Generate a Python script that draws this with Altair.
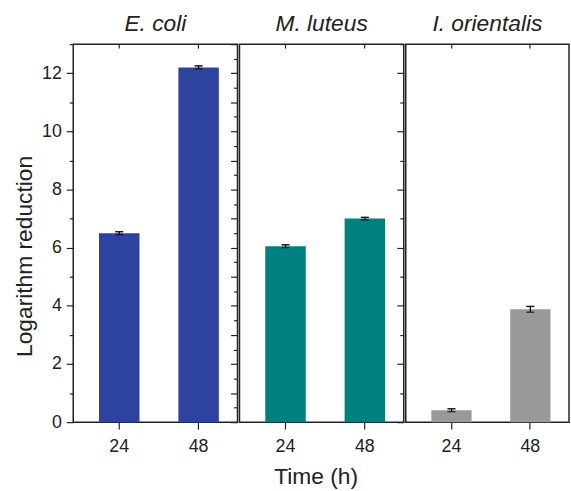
import altair as alt
import pandas as pd

organisms = ["E. coli", "M. luteus", "I. orientalis"]
times = ["24", "48"]
ecoli_vals = [6.5, 12.2]
mluteus_vals = [6.05, 7.0]
iori_vals = [0.41, 3.88]
ecoli_err = [0.05, 0.05]
mluteus_err = [0.05, 0.04]
iori_err = [0.05, 0.1]
colors = ["#2E43A0", "#00807F", "#999999"]
y_even = [0, 2, 4, 6, 8, 10, 12]
y_odd = [1, 3, 5, 7, 9, 11, 13]
y_int = [0, 1, 2, 3, 4, 5, 6, 7, 8, 9, 10, 11, 12, 13]
y_half = [0.5, 1.5, 2.5, 3.5, 4.5, 5.5, 6.5, 7.5, 8.5, 9.5, 10.5, 11.5, 12.5]

FONT = "Liberation Sans"
INK = "#222222"
PANEL_H = 382
PANEL_W = [166, 166, 165]
MAJOR = 7
MINOR = 4
LABEL_SIZE = 18
TITLE_SIZE = 23


def tick_axis(orient, values, size, inward=False):
    """Axis that only draws ticks (no labels, no domain)."""
    kw = dict(orient=orient, tickSize=size, offset=-size if inward else 0,
              labels=False, domain=False, grid=False, title=None,
              tickWidth=1.2, minExtent=0)
    if values is not None:
        kw["values"] = values
    return alt.Axis(**kw)


def make_panel(idx, vals, errs, xtitle, y_axes):
    df = pd.DataFrame({
        "time": times,
        "value": vals,
        "lo": [v - e for v, e in zip(vals, errs)],
        "hi": [v + e for v, e in zip(vals, errs)],
    })
    xscale = alt.Scale(domain=times, paddingInner=0.49, paddingOuter=0.28, align=0.58)
    yscale = alt.Scale(domain=[0, 13], nice=False)
    base = alt.Chart(df)
    bottom_kw = dict(orient="bottom", labelAngle=0, tickSize=MAJOR, tickWidth=1.2,
                     labelFontSize=LABEL_SIZE, labelPadding=9, domain=False, minExtent=0)
    if xtitle:
        bottom_axis = alt.Axis(title=xtitle, titleFontSize=TITLE_SIZE, titlePadding=10,
                               titleX=77, **bottom_kw)
    else:
        bottom_axis = alt.Axis(title=None, **bottom_kw)
    y_axes = list(y_axes) + [None] * (5 - len(y_axes))

    bars = base.mark_bar(color=colors[idx]).encode(
        x=alt.X("time:N", scale=xscale, axis=bottom_axis),
        y=alt.Y("value:Q", scale=yscale, axis=y_axes[0]),
    )
    rules = base.mark_rule(color="black", strokeWidth=1.2).encode(
        x=alt.X("time:N", scale=xscale, axis=tick_axis("top", None, MINOR, inward=True)),
        y=alt.Y("lo:Q", scale=yscale, axis=y_axes[1]),
        y2="hi:Q",
    )
    cap_lo = base.mark_tick(color="black", size=8, thickness=1.3).encode(
        x=alt.X("time:N", scale=xscale, axis=None),
        y=alt.Y("lo:Q", scale=yscale, axis=y_axes[2]),
    )
    cap_hi = base.mark_tick(color="black", size=8, thickness=1.3).encode(
        x=alt.X("time:N", scale=xscale, axis=None),
        y=alt.Y("hi:Q", scale=yscale, axis=y_axes[3]),
    )
    cap_hi2 = base.mark_tick(color="black", size=8, thickness=1.3).encode(
        x=alt.X("time:N", scale=xscale, axis=None),
        y=alt.Y("hi:Q", scale=yscale, axis=y_axes[4]),
    )
    return alt.layer(bars, rules, cap_lo, cap_hi, cap_hi2).resolve_axis(
        x="independent", y="independent"
    ).properties(
        width=PANEL_W[idx], height=PANEL_H,
        title=alt.Title(organisms[idx], fontStyle="italic", fontSize=TITLE_SIZE,
                        fontWeight="normal", font=FONT, color=INK, offset=8),
    )


main_left = alt.Axis(orient="left", values=y_even, tickSize=MAJOR, tickWidth=1.2,
                     title="Logarithm reduction", titleFontSize=TITLE_SIZE, titlePadding=5,
                     titleY=214,
                     labelFontSize=LABEL_SIZE, labelPadding=5, domain=False, grid=False)

p1 = make_panel(0, ecoli_vals, ecoli_err, None, [
    main_left,
    tick_axis("left", y_odd, MINOR),
    tick_axis("right", y_int, MAJOR, inward=True),
    tick_axis("right", y_half, MINOR, inward=True),
])
p2 = make_panel(1, mluteus_vals, mluteus_err, "Time (h)", [
    tick_axis("right", y_even, MAJOR, inward=True),
    tick_axis("right", y_odd, MINOR, inward=True),
])
p3 = make_panel(2, iori_vals, iori_err, None, [])

chart = alt.hconcat(p1, p2, p3, spacing=-3).configure_view(
    stroke=INK, strokeWidth=1.5
).configure_axis(
    labelFont=FONT, titleFont=FONT, labelColor=INK, titleColor=INK,
    tickColor=INK, grid=False, titleFontWeight="normal",
).configure_title(
    font=FONT, anchor="middle", color=INK,
).properties(
    padding={"left": 13, "top": 9, "right": 1, "bottom": 5},
    background="white",
)

chart.save("out.html", embed_options={"renderer": "svg", "actions": False})
